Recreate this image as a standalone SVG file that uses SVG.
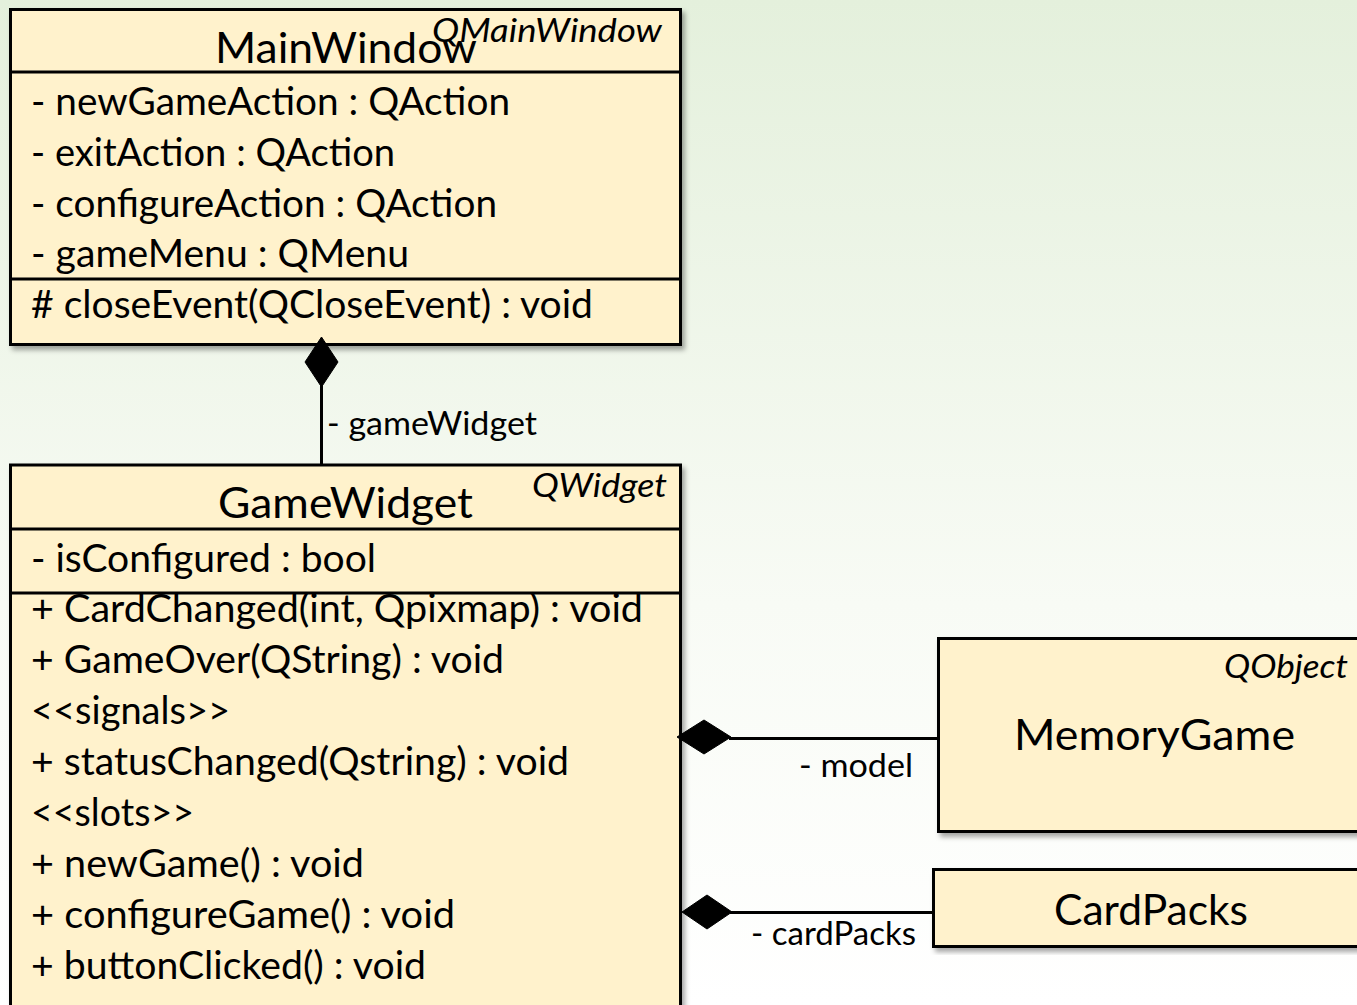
<svg xmlns="http://www.w3.org/2000/svg" width="1357" height="1005" viewBox="0 0 1357 1005">
  <defs>
    <linearGradient id="bg" x1="0" y1="0" x2="0" y2="1">
      <stop offset="0" stop-color="#e4f0dc"/>
      <stop offset="0.6" stop-color="#f8fbf5"/>
      <stop offset="1" stop-color="#ffffff"/>
    </linearGradient>
    <filter id="shadow" x="-5%" y="-5%" width="115%" height="115%">
      <feDropShadow dx="3" dy="4" stdDeviation="2.5" flood-color="#000" flood-opacity="0.35"/>
    </filter>
    <style>
      .box { fill: #fff2cc; stroke: #000; stroke-width: 3; }
      .sep { stroke: #000; stroke-width: 3; fill: none; }
      .t { font-family: Lato, "Open Sans", "Liberation Sans", sans-serif; fill: #000; }
      .title { font-size: 43px; }
      .stereo { font-size: 33px; font-style: italic; }
      .member { font-size: 38px; }
      .label { font-size: 33px; }
      .link { stroke: #000; stroke-width: 3; fill: none; }
      .diamond { fill: #000; stroke: #000; stroke-width: 1; }
    </style>
  </defs>

  <rect x="0" y="0" width="1357" height="1005" fill="url(#bg)"/>

  <!-- MainWindow class -->
  <g id="MainWindow">
    <rect class="box" x="10.5" y="9.5" width="670" height="335" filter="url(#shadow)"/>
    <line class="sep" x1="10.5" y1="72" x2="680.5" y2="72"/>
    <line class="sep" x1="10.5" y1="279" x2="680.5" y2="279"/>
    <text class="t title" x="215" y="63" textLength="262" lengthAdjust="spacingAndGlyphs">MainWindow</text>
    <text class="t stereo" x="432" y="42" textLength="230" lengthAdjust="spacingAndGlyphs">QMainWindow</text>
    <text class="t member" x="31" y="115" textLength="479" lengthAdjust="spacingAndGlyphs">- newGameAction : QAction</text>
    <text class="t member" x="31" y="166" textLength="364" lengthAdjust="spacingAndGlyphs">- exitAction : QAction</text>
    <text class="t member" x="31" y="217" textLength="466" lengthAdjust="spacingAndGlyphs">- configureAction : QAction</text>
    <text class="t member" x="31" y="267" textLength="378" lengthAdjust="spacingAndGlyphs">- gameMenu : QMenu</text>
    <text class="t member" x="31" y="318" textLength="562" lengthAdjust="spacingAndGlyphs"># closeEvent(QCloseEvent) : void</text>
  </g>

  <!-- GameWidget class (runs past the bottom edge) -->
  <g id="GameWidget">
    <rect class="box" x="10.5" y="465" width="670" height="600" filter="url(#shadow)"/>
    <line class="sep" x1="10.5" y1="529" x2="680.5" y2="529"/>
    <line class="sep" x1="10.5" y1="593" x2="680.5" y2="593"/>
    <text class="t title" x="218" y="518" textLength="255" lengthAdjust="spacingAndGlyphs">GameWidget</text>
    <text class="t stereo" x="532" y="497" textLength="135" lengthAdjust="spacingAndGlyphs">QWidget</text>
    <text class="t member" x="31" y="572" textLength="345" lengthAdjust="spacingAndGlyphs">- isConfigured : bool</text>
    <text class="t member" x="31" y="622" textLength="612" lengthAdjust="spacingAndGlyphs">+ CardChanged(int, Qpixmap) : void</text>
    <text class="t member" x="31" y="673" textLength="473" lengthAdjust="spacingAndGlyphs">+ GameOver(QString) : void</text>
    <text class="t member" x="31" y="724" textLength="199" lengthAdjust="spacingAndGlyphs">&lt;&lt;signals&gt;&gt;</text>
    <text class="t member" x="31" y="775" textLength="538" lengthAdjust="spacingAndGlyphs">+ statusChanged(Qstring) : void</text>
    <text class="t member" x="31" y="826" textLength="163" lengthAdjust="spacingAndGlyphs">&lt;&lt;slots&gt;&gt;</text>
    <text class="t member" x="31" y="877" textLength="333" lengthAdjust="spacingAndGlyphs">+ newGame() : void</text>
    <text class="t member" x="31" y="928" textLength="424" lengthAdjust="spacingAndGlyphs">+ configureGame() : void</text>
    <text class="t member" x="31" y="979" textLength="395" lengthAdjust="spacingAndGlyphs">+ buttonClicked() : void</text>
  </g>

  <!-- MemoryGame class (runs past the right edge) -->
  <g id="MemoryGame">
    <rect class="box" x="938.5" y="638.5" width="500" height="193" filter="url(#shadow)"/>
    <text class="t stereo" x="1224" y="678" textLength="124" lengthAdjust="spacingAndGlyphs">QObject</text>
    <text class="t title" x="1014" y="750" textLength="281" lengthAdjust="spacingAndGlyphs">MemoryGame</text>
  </g>

  <!-- CardPacks class (runs past the right edge) -->
  <g id="CardPacks">
    <rect class="box" x="933.5" y="869.5" width="500" height="77" filter="url(#shadow)"/>
    <text class="t title" x="1054" y="925" textLength="194" lengthAdjust="spacingAndGlyphs">CardPacks</text>
  </g>

  <!-- composition links -->
  <g id="connectors">
    <line class="link" x1="321.5" y1="386" x2="321.5" y2="464"/>
    <polygon class="diamond" points="321.5,337 338,362 321.5,387 305,362"/>
    <text class="t label" x="327" y="435" textLength="210" lengthAdjust="spacingAndGlyphs">- gameWidget</text>

    <line class="link" x1="729" y1="738.5" x2="938" y2="738.5"/>
    <polygon class="diamond" points="677,737 704,720 731,737 704,754"/>
    <text class="t label" x="799" y="777" textLength="114" lengthAdjust="spacingAndGlyphs">- model</text>

    <line class="link" x1="730" y1="912.5" x2="933" y2="912.5"/>
    <polygon class="diamond" points="682,912 707,895 732,912 707,929"/>
    <text class="t label" x="751" y="945" textLength="165" lengthAdjust="spacingAndGlyphs">- cardPacks</text>
  </g>
</svg>
